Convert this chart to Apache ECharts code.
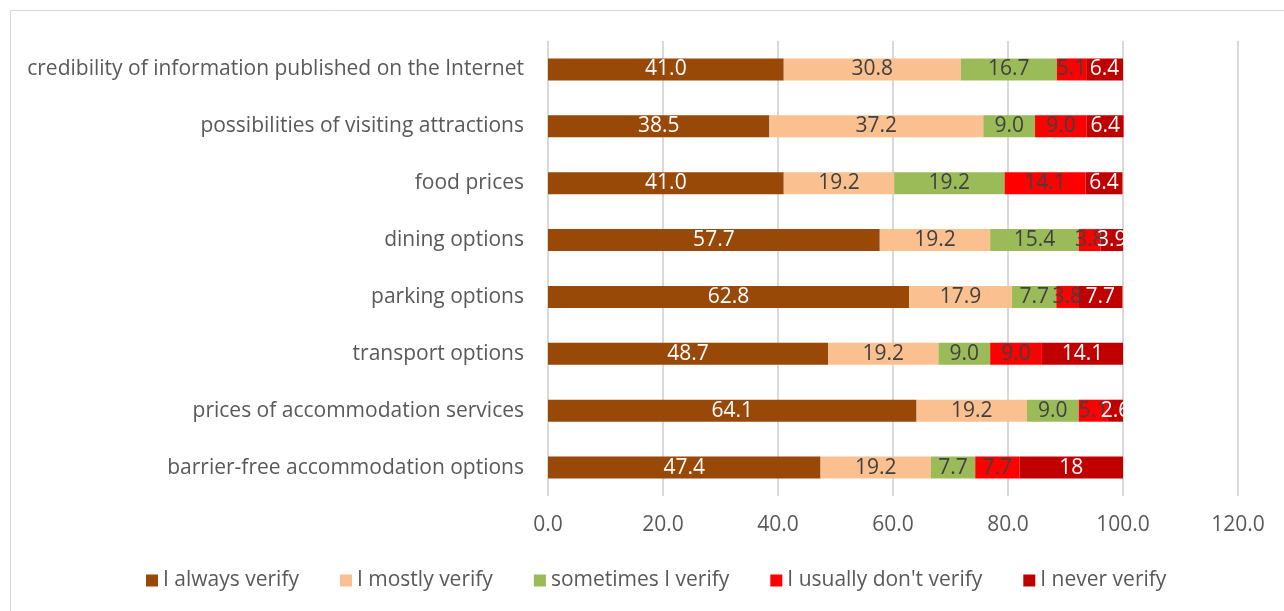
<!DOCTYPE html>
<html>
<head>
<meta charset="utf-8">
<script src="https://cdn.jsdelivr.net/npm/echarts@6/dist/echarts.min.js"></script>
<style>
  html, body { margin: 0; padding: 0; background: #fff; }
  #chart { width: 1284px; height: 611px; }
</style>
</head>
<body>
<div id="chart"></div>
<script>
// Categories listed bottom to top (category axis grows upward)
const categories = [
  'barrier-free accommodation options',
  'prices of accommodation services',
  'transport options',
  'parking options',
  'dining options',
  'food prices',
  'possibilities of visiting attractions',
  'credibility of information published on the Internet'
];

// Shares in percent, kept as text so the labels print exactly as given
const alwaysVerify    = ['47.4', '64.1', '48.7', '62.8', '57.7', '41.0', '38.5', '41.0'];
const mostlyVerify    = ['19.2', '19.2', '19.2', '17.9', '19.2', '19.2', '37.2', '30.8'];
const sometimesVerify = ['7.7', '9.0', '9.0', '7.7', '15.4', '19.2', '9.0', '16.7'];
const usuallyNot      = ['7.7', '5.1', '9.0', '3.8', '3.8', '14.1', '9.0', '5.1'];
const neverVerify     = ['18', '2.6', '14.1', '7.7', '3.9', '6.4', '6.4', '6.4'];

const seriesNames = ['I always verify', 'I mostly verify', 'sometimes I verify', "I usually don't verify", 'I never verify'];
const seriesData = [alwaysVerify, mostlyVerify, sometimesVerify, usuallyNot, neverVerify];
const seriesColors = ['#984807', '#FAC090', '#9BBB59', '#FF0000', '#C00000'];
const labelColors = ['#FFFFFF', '#404040', '#404040', '#404040', '#FFFFFF'];

const xTicks = { min: 0, max: 120, interval: 20 };

const FONT = 'Open Sans';
const FS = 21;

const chart = echarts.init(document.getElementById('chart'), null, { renderer: 'canvas' });

chart.setOption({
  animation: false,
  backgroundColor: '#FFFFFF',
  textStyle: { fontFamily: FONT },
  graphic: [{
    type: 'rect',
    shape: { x: 10.5, y: 10.5, width: 1290, height: 620 },
    style: { fill: 'none', stroke: '#D9D9D9', lineWidth: 1 },
    silent: true
  }],
  grid: { left: 548, right: 46, top: 41, height: 455, containLabel: false },
  legend: {
    bottom: 15,
    left: 141,
    icon: 'rect',
    itemWidth: 12,
    itemHeight: 12,
    itemGap: 41,
    textStyle: { fontFamily: FONT, fontSize: FS, color: '#595959' },
    data: seriesNames
  },
  xAxis: {
    type: 'value',
    min: xTicks.min,
    max: xTicks.max,
    interval: xTicks.interval,
    axisLine: { show: false },
    axisTick: { show: false },
    axisLabel: {
      fontFamily: FONT, fontSize: FS, color: '#595959', margin: 19,
      formatter: v => v.toFixed(1)
    },
    splitLine: { show: true, lineStyle: { color: '#D9D9D9', width: 2 } }
  },
  yAxis: {
    type: 'category',
    data: categories,
    axisLine: { show: false },
    axisTick: { show: false },
    axisLabel: { fontFamily: FONT, fontSize: FS, color: '#595959', margin: 24 }
  },
  series: seriesNames.map((name, i) => ({
    name,
    type: 'bar',
    stack: 'total',
    barWidth: 22,
    data: seriesData[i],
    itemStyle: { color: seriesColors[i] },
    label: {
      show: true,
      position: 'inside',
      fontFamily: FONT,
      fontSize: FS,
      color: labelColors[i],
      formatter: p => seriesData[i][p.dataIndex]
    }
  }))
});
</script>
</body>
</html>
